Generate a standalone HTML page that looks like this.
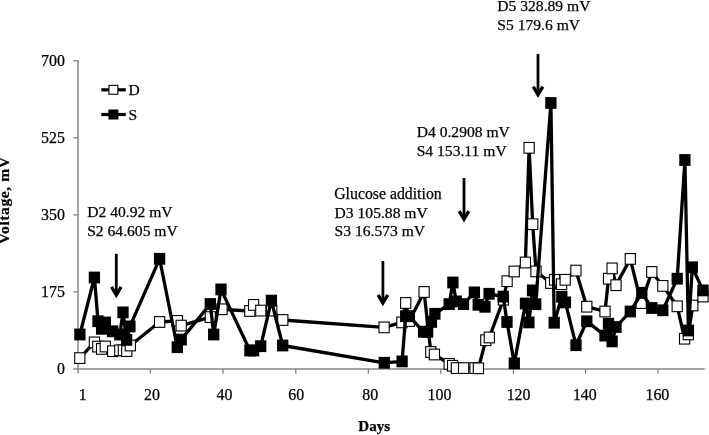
<!DOCTYPE html>
<html><head><meta charset="utf-8"><title>Voltage vs Days</title>
<style>
html,body{margin:0;padding:0;background:#fff;}
body{width:709px;height:435px;overflow:hidden;position:relative;font-family:"Liberation Serif",serif;}
</style></head><body>
<svg width="709" height="435" viewBox="0 0 709 435" style="position:absolute;left:0;top:0;filter:grayscale(1)">
<rect width="709" height="435" fill="#fff"/>
<path d="M78.0 60.2 V373.6 M73.2 368.9 H704.8" stroke="#868686" stroke-width="1.5" fill="none"/>
<path d="M73.2 291.9 H78.0" stroke="#868686" stroke-width="1.3"/>
<path d="M73.2 214.9 H78.0" stroke="#868686" stroke-width="1.3"/>
<path d="M73.2 137.8 H78.0" stroke="#868686" stroke-width="1.3"/>
<path d="M73.2 60.8 H78.0" stroke="#868686" stroke-width="1.3"/>
<path d="M150.3 368.9 V373.7" stroke="#6e6e6e" stroke-width="1.1"/>
<path d="M223.0 368.9 V373.7" stroke="#6e6e6e" stroke-width="1.1"/>
<path d="M295.8 368.9 V373.7" stroke="#6e6e6e" stroke-width="1.1"/>
<path d="M368.3 368.9 V373.7" stroke="#6e6e6e" stroke-width="1.1"/>
<path d="M440.8 368.9 V373.7" stroke="#6e6e6e" stroke-width="1.1"/>
<path d="M513.4 368.9 V373.7" stroke="#6e6e6e" stroke-width="1.1"/>
<path d="M585.6 368.9 V373.7" stroke="#6e6e6e" stroke-width="1.1"/>
<path d="M658.0 368.9 V373.7" stroke="#6e6e6e" stroke-width="1.1"/>
<polyline points="79.8,358.1 94.4,342.4 97.8,346.6 101.6,348.9 105.3,346.5 112.7,351.2 119.8,350.3 123.4,350.3 126.8,351.1 130.3,345.5 159.6,322.0 177.4,320.9 181.2,325.6 210.3,317.1 222.0,309.3 249.8,311.0 253.6,304.9 260.8,310.6 271.7,310.6 282.8,320.0 384.1,327.4 401.9,322.4 405.7,303.0 409.3,321.0 424.1,292.0 430.8,352.0 434.4,354.5 449.2,363.9 452.6,365.8 456.4,368.1 463.6,368.1 475.0,368.1 478.4,368.3 485.8,340.2 489.3,337.5 503.4,299.7 507.1,281.2 514.2,271.5 525.4,262.5 529.1,147.8 532.7,224.2 536.0,271.4 550.7,283.0 554.6,279.8 561.6,284.2 565.2,279.8 575.9,270.6 586.8,306.7 605.0,311.5 608.5,278.7 612.1,268.4 616.0,285.2 630.3,258.9 641.2,303.1 651.8,272.0 662.8,285.9 677.2,306.3 684.6,338.7 688.3,334.4 692.8,305.5 703.0,296.5" fill="none" stroke="#000" stroke-width="3.3" stroke-linejoin="round"/>
<rect x="74.70" y="352.75" width="10.20" height="10.70" fill="#fff" stroke="#000" stroke-width="1.1"/>
<rect x="89.30" y="337.05" width="10.20" height="10.70" fill="#fff" stroke="#000" stroke-width="1.1"/>
<rect x="92.70" y="341.25" width="10.20" height="10.70" fill="#fff" stroke="#000" stroke-width="1.1"/>
<rect x="96.50" y="343.55" width="10.20" height="10.70" fill="#fff" stroke="#000" stroke-width="1.1"/>
<rect x="100.20" y="341.15" width="10.20" height="10.70" fill="#fff" stroke="#000" stroke-width="1.1"/>
<rect x="107.60" y="345.85" width="10.20" height="10.70" fill="#fff" stroke="#000" stroke-width="1.1"/>
<rect x="114.70" y="344.95" width="10.20" height="10.70" fill="#fff" stroke="#000" stroke-width="1.1"/>
<rect x="118.30" y="344.95" width="10.20" height="10.70" fill="#fff" stroke="#000" stroke-width="1.1"/>
<rect x="121.70" y="345.75" width="10.20" height="10.70" fill="#fff" stroke="#000" stroke-width="1.1"/>
<rect x="125.20" y="340.15" width="10.20" height="10.70" fill="#fff" stroke="#000" stroke-width="1.1"/>
<rect x="154.50" y="316.65" width="10.20" height="10.70" fill="#fff" stroke="#000" stroke-width="1.1"/>
<rect x="172.30" y="315.55" width="10.20" height="10.70" fill="#fff" stroke="#000" stroke-width="1.1"/>
<rect x="176.10" y="320.25" width="10.20" height="10.70" fill="#fff" stroke="#000" stroke-width="1.1"/>
<rect x="205.20" y="311.75" width="10.20" height="10.70" fill="#fff" stroke="#000" stroke-width="1.1"/>
<rect x="216.90" y="303.95" width="10.20" height="10.70" fill="#fff" stroke="#000" stroke-width="1.1"/>
<rect x="244.70" y="305.65" width="10.20" height="10.70" fill="#fff" stroke="#000" stroke-width="1.1"/>
<rect x="248.50" y="299.55" width="10.20" height="10.70" fill="#fff" stroke="#000" stroke-width="1.1"/>
<rect x="255.70" y="305.25" width="10.20" height="10.70" fill="#fff" stroke="#000" stroke-width="1.1"/>
<rect x="266.60" y="305.25" width="10.20" height="10.70" fill="#fff" stroke="#000" stroke-width="1.1"/>
<rect x="277.70" y="314.65" width="10.20" height="10.70" fill="#fff" stroke="#000" stroke-width="1.1"/>
<rect x="379.00" y="322.05" width="10.20" height="10.70" fill="#fff" stroke="#000" stroke-width="1.1"/>
<rect x="396.80" y="317.05" width="10.20" height="10.70" fill="#fff" stroke="#000" stroke-width="1.1"/>
<rect x="400.60" y="297.65" width="10.20" height="10.70" fill="#fff" stroke="#000" stroke-width="1.1"/>
<rect x="404.20" y="315.65" width="10.20" height="10.70" fill="#fff" stroke="#000" stroke-width="1.1"/>
<rect x="419.00" y="286.65" width="10.20" height="10.70" fill="#fff" stroke="#000" stroke-width="1.1"/>
<rect x="425.70" y="346.65" width="10.20" height="10.70" fill="#fff" stroke="#000" stroke-width="1.1"/>
<rect x="429.30" y="349.15" width="10.20" height="10.70" fill="#fff" stroke="#000" stroke-width="1.1"/>
<rect x="444.10" y="358.55" width="10.20" height="10.70" fill="#fff" stroke="#000" stroke-width="1.1"/>
<rect x="447.50" y="360.45" width="10.20" height="10.70" fill="#fff" stroke="#000" stroke-width="1.1"/>
<rect x="451.30" y="362.75" width="10.20" height="10.70" fill="#fff" stroke="#000" stroke-width="1.1"/>
<rect x="458.50" y="362.75" width="10.20" height="10.70" fill="#fff" stroke="#000" stroke-width="1.1"/>
<rect x="469.90" y="362.75" width="10.20" height="10.70" fill="#fff" stroke="#000" stroke-width="1.1"/>
<rect x="473.30" y="362.95" width="10.20" height="10.70" fill="#fff" stroke="#000" stroke-width="1.1"/>
<rect x="480.70" y="334.85" width="10.20" height="10.70" fill="#fff" stroke="#000" stroke-width="1.1"/>
<rect x="484.20" y="332.15" width="10.20" height="10.70" fill="#fff" stroke="#000" stroke-width="1.1"/>
<rect x="498.30" y="294.35" width="10.20" height="10.70" fill="#fff" stroke="#000" stroke-width="1.1"/>
<rect x="502.00" y="275.85" width="10.20" height="10.70" fill="#fff" stroke="#000" stroke-width="1.1"/>
<rect x="509.10" y="266.15" width="10.20" height="10.70" fill="#fff" stroke="#000" stroke-width="1.1"/>
<rect x="520.30" y="257.15" width="10.20" height="10.70" fill="#fff" stroke="#000" stroke-width="1.1"/>
<rect x="524.00" y="142.45" width="10.20" height="10.70" fill="#fff" stroke="#000" stroke-width="1.1"/>
<rect x="527.60" y="218.85" width="10.20" height="10.70" fill="#fff" stroke="#000" stroke-width="1.1"/>
<rect x="530.90" y="266.05" width="10.20" height="10.70" fill="#fff" stroke="#000" stroke-width="1.1"/>
<rect x="545.60" y="277.65" width="10.20" height="10.70" fill="#fff" stroke="#000" stroke-width="1.1"/>
<rect x="549.50" y="274.45" width="10.20" height="10.70" fill="#fff" stroke="#000" stroke-width="1.1"/>
<rect x="556.50" y="278.85" width="10.20" height="10.70" fill="#fff" stroke="#000" stroke-width="1.1"/>
<rect x="560.10" y="274.45" width="10.20" height="10.70" fill="#fff" stroke="#000" stroke-width="1.1"/>
<rect x="570.80" y="265.25" width="10.20" height="10.70" fill="#fff" stroke="#000" stroke-width="1.1"/>
<rect x="581.70" y="301.35" width="10.20" height="10.70" fill="#fff" stroke="#000" stroke-width="1.1"/>
<rect x="599.90" y="306.15" width="10.20" height="10.70" fill="#fff" stroke="#000" stroke-width="1.1"/>
<rect x="603.40" y="273.35" width="10.20" height="10.70" fill="#fff" stroke="#000" stroke-width="1.1"/>
<rect x="607.00" y="263.05" width="10.20" height="10.70" fill="#fff" stroke="#000" stroke-width="1.1"/>
<rect x="610.90" y="279.85" width="10.20" height="10.70" fill="#fff" stroke="#000" stroke-width="1.1"/>
<rect x="625.20" y="253.55" width="10.20" height="10.70" fill="#fff" stroke="#000" stroke-width="1.1"/>
<rect x="636.10" y="297.75" width="10.20" height="10.70" fill="#fff" stroke="#000" stroke-width="1.1"/>
<rect x="646.70" y="266.65" width="10.20" height="10.70" fill="#fff" stroke="#000" stroke-width="1.1"/>
<rect x="657.70" y="280.55" width="10.20" height="10.70" fill="#fff" stroke="#000" stroke-width="1.1"/>
<rect x="672.10" y="300.95" width="10.20" height="10.70" fill="#fff" stroke="#000" stroke-width="1.1"/>
<rect x="679.50" y="333.35" width="10.20" height="10.70" fill="#fff" stroke="#000" stroke-width="1.1"/>
<rect x="683.20" y="329.05" width="10.20" height="10.70" fill="#fff" stroke="#000" stroke-width="1.1"/>
<rect x="687.70" y="300.15" width="10.20" height="10.70" fill="#fff" stroke="#000" stroke-width="1.1"/>
<rect x="697.90" y="291.15" width="10.20" height="10.70" fill="#fff" stroke="#000" stroke-width="1.1"/>
<polyline points="79.9,334.5 94.4,277.5 98.0,321.2 101.6,328.8 105.3,322.5 112.6,331.3 119.8,334.5 123.0,312.4 126.6,339.9 129.9,326.4 159.6,258.8 177.3,347.2 181.2,339.6 210.3,304.0 213.7,334.5 221.0,289.4 249.9,350.5 253.6,350.5 260.7,346.2 271.4,300.6 282.7,345.5 384.3,362.8 402.1,361.4 405.7,316.2 409.2,316.2 423.6,331.8 427.6,331.8 431.4,321.9 434.9,313.8 449.2,304.1 452.9,282.5 456.2,301.4 463.5,304.1 474.4,292.4 478.2,304.8 485.0,306.8 489.1,293.8 503.2,296.6 507.0,322.0 514.3,363.4 525.5,303.5 528.9,322.4 532.5,290.4 535.7,304.2 550.9,103.0 554.2,322.7 561.8,296.8 565.4,302.4 576.0,345.2 586.8,321.3 605.0,335.6 608.5,323.7 612.1,341.4 616.0,327.0 630.3,311.5 641.8,292.8 651.8,308.0 662.8,310.3 677.2,278.7 684.9,160.0 688.4,330.5 692.3,267.3 703.0,290.4" fill="none" stroke="#000" stroke-width="3.3" stroke-linejoin="round"/>
<rect x="74.25" y="328.60" width="11.3" height="11.8" fill="#000"/>
<rect x="88.75" y="271.60" width="11.3" height="11.8" fill="#000"/>
<rect x="92.35" y="315.30" width="11.3" height="11.8" fill="#000"/>
<rect x="95.95" y="322.90" width="11.3" height="11.8" fill="#000"/>
<rect x="99.65" y="316.60" width="11.3" height="11.8" fill="#000"/>
<rect x="106.95" y="325.40" width="11.3" height="11.8" fill="#000"/>
<rect x="114.15" y="328.60" width="11.3" height="11.8" fill="#000"/>
<rect x="117.35" y="306.50" width="11.3" height="11.8" fill="#000"/>
<rect x="120.95" y="334.00" width="11.3" height="11.8" fill="#000"/>
<rect x="124.25" y="320.50" width="11.3" height="11.8" fill="#000"/>
<rect x="153.95" y="252.90" width="11.3" height="11.8" fill="#000"/>
<rect x="171.65" y="341.30" width="11.3" height="11.8" fill="#000"/>
<rect x="175.55" y="333.70" width="11.3" height="11.8" fill="#000"/>
<rect x="204.65" y="298.10" width="11.3" height="11.8" fill="#000"/>
<rect x="208.05" y="328.60" width="11.3" height="11.8" fill="#000"/>
<rect x="215.35" y="283.50" width="11.3" height="11.8" fill="#000"/>
<rect x="244.25" y="344.60" width="11.3" height="11.8" fill="#000"/>
<rect x="247.95" y="344.60" width="11.3" height="11.8" fill="#000"/>
<rect x="255.05" y="340.30" width="11.3" height="11.8" fill="#000"/>
<rect x="265.75" y="294.70" width="11.3" height="11.8" fill="#000"/>
<rect x="277.05" y="339.60" width="11.3" height="11.8" fill="#000"/>
<rect x="378.65" y="356.90" width="11.3" height="11.8" fill="#000"/>
<rect x="396.45" y="355.50" width="11.3" height="11.8" fill="#000"/>
<rect x="400.05" y="310.30" width="11.3" height="11.8" fill="#000"/>
<rect x="403.55" y="310.30" width="11.3" height="11.8" fill="#000"/>
<rect x="417.95" y="325.90" width="11.3" height="11.8" fill="#000"/>
<rect x="421.95" y="325.90" width="11.3" height="11.8" fill="#000"/>
<rect x="425.75" y="316.00" width="11.3" height="11.8" fill="#000"/>
<rect x="429.25" y="307.90" width="11.3" height="11.8" fill="#000"/>
<rect x="443.55" y="298.20" width="11.3" height="11.8" fill="#000"/>
<rect x="447.25" y="276.60" width="11.3" height="11.8" fill="#000"/>
<rect x="450.55" y="295.50" width="11.3" height="11.8" fill="#000"/>
<rect x="457.85" y="298.20" width="11.3" height="11.8" fill="#000"/>
<rect x="468.75" y="286.50" width="11.3" height="11.8" fill="#000"/>
<rect x="472.55" y="298.90" width="11.3" height="11.8" fill="#000"/>
<rect x="479.35" y="300.90" width="11.3" height="11.8" fill="#000"/>
<rect x="483.45" y="287.90" width="11.3" height="11.8" fill="#000"/>
<rect x="497.55" y="290.70" width="11.3" height="11.8" fill="#000"/>
<rect x="501.35" y="316.10" width="11.3" height="11.8" fill="#000"/>
<rect x="508.65" y="357.50" width="11.3" height="11.8" fill="#000"/>
<rect x="519.85" y="297.60" width="11.3" height="11.8" fill="#000"/>
<rect x="523.25" y="316.50" width="11.3" height="11.8" fill="#000"/>
<rect x="526.85" y="284.50" width="11.3" height="11.8" fill="#000"/>
<rect x="530.05" y="298.30" width="11.3" height="11.8" fill="#000"/>
<rect x="545.25" y="97.10" width="11.3" height="11.8" fill="#000"/>
<rect x="548.55" y="316.80" width="11.3" height="11.8" fill="#000"/>
<rect x="556.15" y="290.90" width="11.3" height="11.8" fill="#000"/>
<rect x="559.75" y="296.50" width="11.3" height="11.8" fill="#000"/>
<rect x="570.35" y="339.30" width="11.3" height="11.8" fill="#000"/>
<rect x="581.15" y="315.40" width="11.3" height="11.8" fill="#000"/>
<rect x="599.35" y="329.70" width="11.3" height="11.8" fill="#000"/>
<rect x="602.85" y="317.80" width="11.3" height="11.8" fill="#000"/>
<rect x="606.45" y="335.50" width="11.3" height="11.8" fill="#000"/>
<rect x="610.35" y="321.10" width="11.3" height="11.8" fill="#000"/>
<rect x="624.65" y="305.60" width="11.3" height="11.8" fill="#000"/>
<rect x="636.15" y="286.90" width="11.3" height="11.8" fill="#000"/>
<rect x="646.15" y="302.10" width="11.3" height="11.8" fill="#000"/>
<rect x="657.15" y="304.40" width="11.3" height="11.8" fill="#000"/>
<rect x="671.55" y="272.80" width="11.3" height="11.8" fill="#000"/>
<rect x="679.25" y="154.10" width="11.3" height="11.8" fill="#000"/>
<rect x="682.75" y="324.60" width="11.3" height="11.8" fill="#000"/>
<rect x="686.65" y="261.40" width="11.3" height="11.8" fill="#000"/>
<rect x="697.35" y="284.50" width="11.3" height="11.8" fill="#000"/>
<path d="M101.3 89.8 H125.8" stroke="#000" stroke-width="3.2"/>
<rect x="108.95" y="85.35" width="8.90" height="8.90" fill="#fff" stroke="#000" stroke-width="1.1"/>
<path d="M101.3 114.5 H125.8" stroke="#000" stroke-width="3.2"/>
<rect x="108.40" y="109.50" width="10" height="10" fill="#000"/>
<path d="M116.3 253.8 L116.3 294.2" stroke="#000" stroke-width="2.8" fill="none"/><path d="M111.5 286.9 L116.3 295.0 L121.1 286.9" stroke="#000" stroke-width="3.3" fill="none" stroke-linejoin="miter" stroke-miterlimit="10" stroke-linecap="butt"/>
<path d="M382.90000000000003 261.1 L382.90000000000003 302.2" stroke="#000" stroke-width="2.8" fill="none"/><path d="M378.1 294.9 L382.90000000000003 303.0 L387.70000000000005 294.9" stroke="#000" stroke-width="3.3" fill="none" stroke-linejoin="miter" stroke-miterlimit="10" stroke-linecap="butt"/>
<path d="M464.0 178.0 L464.0 218.5" stroke="#000" stroke-width="2.8" fill="none"/><path d="M459.2 211.2 L464.0 219.3 L468.8 211.2" stroke="#000" stroke-width="3.3" fill="none" stroke-linejoin="miter" stroke-miterlimit="10" stroke-linecap="butt"/>
<path d="M538.0 53.9 L538.0 93.9" stroke="#000" stroke-width="2.8" fill="none"/><path d="M533.2 86.60000000000001 L538.0 94.7 L542.8 86.60000000000001" stroke="#000" stroke-width="3.3" fill="none" stroke-linejoin="miter" stroke-miterlimit="10" stroke-linecap="butt"/>
<g font-family="Liberation Serif, serif" font-size="15.6" fill="#000" stroke="#000" stroke-width="0.25">
<text x="64.9" y="374.0" text-anchor="end" font-size="15.9">0</text>
<text x="64.9" y="297.0" text-anchor="end" font-size="15.9">175</text>
<text x="64.9" y="220.0" text-anchor="end" font-size="15.9">350</text>
<text x="64.9" y="142.9" text-anchor="end" font-size="15.9">525</text>
<text x="64.9" y="65.9" text-anchor="end" font-size="15.9">700</text>
<text x="82.7" y="399.5" text-anchor="middle" font-size="15.9">1</text>
<text x="151.9" y="399.5" text-anchor="middle" font-size="15.9">20</text>
<text x="224.5" y="399.5" text-anchor="middle" font-size="15.9">40</text>
<text x="296.2" y="399.5" text-anchor="middle" font-size="15.9">60</text>
<text x="370.2" y="399.5" text-anchor="middle" font-size="15.9">80</text>
<text x="439.5" y="399.5" text-anchor="middle" font-size="15.9">100</text>
<text x="518.6" y="399.5" text-anchor="middle" font-size="15.9">120</text>
<text x="584.8" y="399.5" text-anchor="middle" font-size="15.9">140</text>
<text x="657.4" y="399.5" text-anchor="middle" font-size="15.9">160</text>
<text x="128.6" y="95.0" text-anchor="start" >D</text>
<text x="128.6" y="119.7" text-anchor="start" >S</text>
<text x="87.2" y="216.9" text-anchor="start" >D2 40.92 mV</text>
<text x="87.2" y="236.2" text-anchor="start" >S2 64.605 mV</text>
<text x="334.2" y="198.8" text-anchor="start" font-size="15.8">Glucose addition</text>
<text x="334.6" y="217.5" text-anchor="start" >D3 105.88 mV</text>
<text x="334.6" y="236.0" text-anchor="start" >S3 16.573 mV</text>
<text x="416.7" y="137.0" text-anchor="start" >D4 0.2908 mV</text>
<text x="416.7" y="156.0" text-anchor="start" >S4 153.11 mV</text>
<text x="497.3" y="11.2" text-anchor="start" >D5 328.89 mV</text>
<text x="497.3" y="30.2" text-anchor="start" >S5 179.6 mV</text>
<text x="374.2" y="431.3" text-anchor="middle" font-weight="bold" font-size="15.1">Days</text>
<text x="0" y="0" text-anchor="middle" font-weight="bold" font-size="15.6" letter-spacing="0.55" transform="translate(8.9,200.4) rotate(-90)">Voltage, mV</text>
</g>
</svg>
</body></html>
